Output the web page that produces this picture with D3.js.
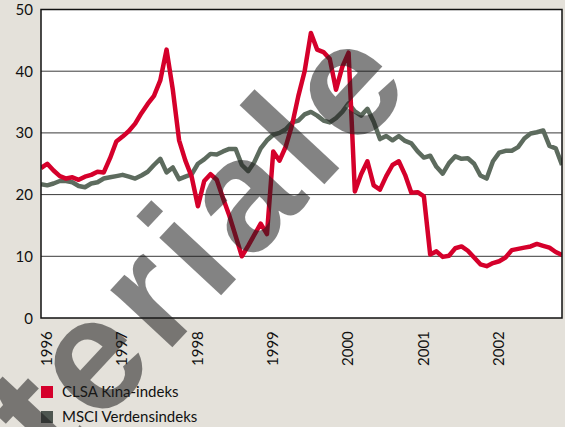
<!DOCTYPE html>
<html>
<head>
<meta charset="utf-8">
<script src="https://cdn.jsdelivr.net/npm/d3@7"></script>
<style>
  html, body { margin: 0; padding: 0; background: #e4e1da; }
  svg { display: block; }
</style>
</head>
<body>
<div id="chart"></div>
<script>
// monthly, Jan 1996 .. Dec 2002
var years = [1996, 1997, 1998, 1999, 2000, 2001, 2002];
var yTicks = [0, 10, 20, 30, 40, 50];
var seriesNames = ["CLSA Kina-indeks", "MSCI Verdensindeks"];

var clsa = [
	24.3, 25.0, 23.9, 23.0, 22.6, 22.8, 22.4, 22.9, 23.2, 23.7, 23.6, 25.9,
	28.6, 29.4, 30.3, 31.5, 33.2, 34.7, 36.0, 38.5, 43.5, 37.0, 28.8, 25.5,
	22.9, 18.1, 22.2, 23.3, 22.4, 19.4, 16.6, 13.3, 10.0, 11.7, 13.5, 15.3,
	13.6, 27.0, 25.5, 27.8, 31.3, 36.0, 40.0, 46.2, 43.5, 43.1, 42.0, 37.0,
	40.7, 43.0, 20.5, 23.3, 25.4, 21.5, 20.8, 23.0, 24.8, 25.4, 23.2, 20.3,
	20.4, 19.7, 10.3, 10.8, 9.9, 10.1, 11.3, 11.6, 10.9, 9.8, 8.7, 8.4,
	8.9, 9.2, 9.8, 11.0, 11.2, 11.4, 11.6, 12.0, 11.7, 11.4, 10.7, 10.2
];

var msci = [
	21.7, 21.5, 21.8, 22.2, 22.2, 22.0, 21.4, 21.2, 21.8, 22.0, 22.6, 22.8,
	23.0, 23.2, 22.9, 22.6, 23.1, 23.7, 24.8, 25.8, 23.6, 24.4, 22.5, 22.9,
	23.3, 25.0, 25.7, 26.6, 26.5, 27.0, 27.4, 27.4, 24.8, 23.8, 25.3, 27.5,
	28.8, 29.7, 30.0, 30.6, 31.7, 32.0, 33.0, 33.4, 32.8, 32.0, 31.7, 32.4,
	33.4, 34.8, 33.5, 32.8, 33.9, 31.8, 29.0, 29.5, 28.8, 29.5, 28.7, 28.3,
	27.0, 26.0, 26.3, 24.5, 23.4, 25.1, 26.2, 25.8, 25.9, 25.0, 23.1, 22.6,
	25.4, 26.8, 27.1, 27.1, 27.7, 29.1, 29.9, 30.1, 30.4, 27.9, 27.5, 24.8
];

var colors = ["#d5002b", "#5d6b5e"];
var legendColors = ["#d5002b", "#4e5650"];

var width = 565, height = 427;
var plot = {left: 41, right: 562, top: 9.5, bottom: 318};

var svg = d3.select("#chart").append("svg")
	.attr("width", width)
	.attr("height", height);

svg.append("rect")
	.attr("width", width)
	.attr("height", height)
	.attr("fill", "#e4e1da");

var x = d3.scaleLinear()
	.domain([0, clsa.length - 1])
	.range([plot.left, plot.right]);

var y = d3.scaleLinear()
	.domain([0, 50])
	.range([plot.bottom, plot.top]);

svg.append("rect")
	.attr("x", plot.left)
	.attr("y", plot.top)
	.attr("width", plot.right - plot.left)
	.attr("height", plot.bottom - plot.top)
	.attr("fill", "#ffffff");

// grid
svg.append("g")
	.selectAll("line")
	.data(yTicks.filter(function(d) { return d > 0 && d < 50; }))
	.enter().append("line")
	.attr("x1", plot.left)
	.attr("x2", plot.right)
	.attr("y1", function(d) { return y(d); })
	.attr("y2", function(d) { return y(d); })
	.attr("stroke", "#3a3a3a")
	.attr("stroke-width", 1);

// y labels
svg.append("g")
	.selectAll("text")
	.data(yTicks)
	.enter().append("text")
	.attr("x", 33)
	.attr("y", function(d) { return y(d) + 5.5; })
	.attr("text-anchor", "end")
	.attr("font-family", "Lato, 'Open Sans', sans-serif")
	.attr("font-size", 15)
	.attr("fill", "#111")
	.text(function(d) { return d; });

// x labels, rotated
svg.append("g")
	.selectAll("text")
	.data(years)
	.enter().append("text")
	.attr("transform", function(d) {
		var px = x((d - 1996) * 12) + 11;
		return "translate(" + px + ",366) rotate(-90)";
	})
	.attr("font-family", "Lato, 'Open Sans', sans-serif")
	.attr("font-size", 15)
	.attr("fill", "#111")
	.text(function(d) { return d; });

var line = d3.line()
	.x(function(d, i) { return x(i); })
	.y(function(d) { return y(d); });

svg.append("clipPath").attr("id", "plotclip")
	.append("rect")
	.attr("x", plot.left)
	.attr("y", plot.top)
	.attr("width", plot.right - plot.left)
	.attr("height", plot.bottom - plot.top);

var lines = svg.append("g").attr("clip-path", "url(#plotclip)");

lines.append("path")
	.datum(msci)
	.attr("d", line)
	.attr("fill", "none")
	.attr("stroke", colors[1])
	.attr("stroke-width", 4.5)
	.attr("stroke-linejoin", "round");

lines.append("path")
	.datum(clsa)
	.attr("d", line)
	.attr("fill", "none")
	.attr("stroke", colors[0])
	.attr("stroke-width", 4.5)
	.attr("stroke-linejoin", "round");

// frame
svg.append("rect")
	.attr("x", plot.left)
	.attr("y", plot.top)
	.attr("width", plot.right - plot.left)
	.attr("height", plot.bottom - plot.top)
	.attr("fill", "none")
	.attr("stroke", "#111")
	.attr("stroke-width", 1.5);

// legend
var legend = svg.append("g")
	.selectAll("g")
	.data(seriesNames)
	.enter().append("g")
	.attr("transform", function(d, i) { return "translate(41," + (386 + i * 25) + ")"; });

legend.append("rect")
	.attr("width", 12)
	.attr("height", 12)
	.attr("fill", function(d, i) { return legendColors[i]; });

legend.append("text")
	.attr("x", 21)
	.attr("y", 11)
	.attr("font-family", "Lato, 'Open Sans', sans-serif")
	.attr("font-size", 15)
	.attr("fill", "#111")
	.text(function(d) { return d; });

// watermark
svg.append("text")
	.attr("transform", "translate(-114.5,655) rotate(-47)")
	.attr("font-family", "'Liberation Sans', Arial, sans-serif")
	.attr("font-weight", "bold")
	.attr("font-size", 160)
	.attr("letter-spacing", 9)
	.attr("fill", "#1e1e1e")
	.attr("fill-opacity", 0.55)
	.text("materiale");
</script>
</body>
</html>
